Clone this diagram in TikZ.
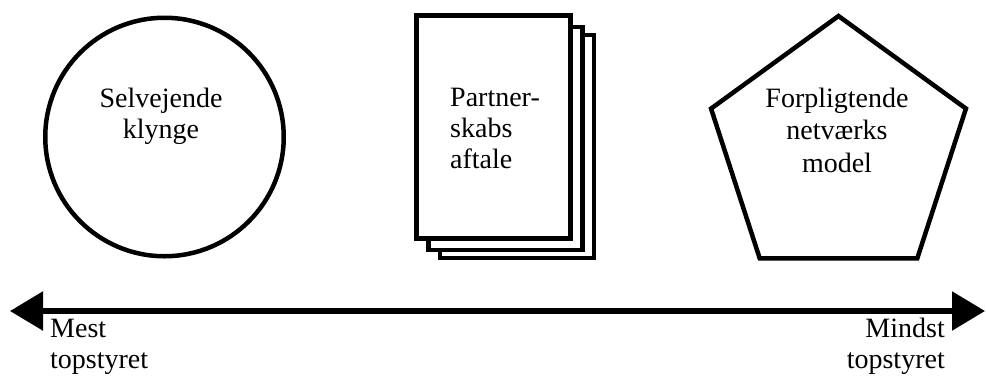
\documentclass[tikz,border=0pt]{standalone}
\usepackage{fontspec}
\setmainfont{Liberation Serif}
\usetikzlibrary{shapes.geometric,arrows.meta}
\begin{document}
\begin{tikzpicture}[x=1pt,y=-1pt,
  lbl/.style={font=\fontsize{28}{31}\selectfont, inner sep=0pt},
  sheet/.style={draw, fill=white, minimum width=154pt, minimum height=223pt, inner sep=0pt}]
\useasboundingbox (0,0) rectangle (986,376);
% circle
\node[draw, circle, line width=4.5pt, minimum size=238.5pt, inner sep=0pt] (circ) at (164.5,137) {};
\node[lbl, align=center, anchor=base] (circtxt) at (161,138) {Selvejende\\klynge};
% stacked sheets
\node[sheet, line width=4pt] (sheet3) at (516.5,146.5) {};
\node[sheet, line width=4.5pt] (sheet2) at (505.5,138.5) {};
\node[sheet, line width=5pt] (sheet1) at (493.5,127) {};
\node[lbl, align=left, anchor=base west] (sheettxt) at (450,168) {Partner-\\skabs\\aftale};
% pentagon
\node[draw, regular polygon, regular polygon sides=5, line width=4.5pt, minimum size=268pt, inner sep=0pt] (pent) at (838.5,150) {};
\node[lbl, font=\fontsize{28}{32.5}\selectfont, align=center, anchor=base] (penttxt) at (837,172) {Forpligtende\\netværks\\model};
% axis
\coordinate (lend) at (10,311);
\coordinate (rend) at (985,311);
\draw[line width=5.5pt, {Triangle[length=33pt,width=38pt]}-{Triangle[length=33pt,width=38pt]}] (lend) -- (rend);
\node[lbl, align=left, anchor=base west] (most) at (50,368) {Mest\\topstyret};
\node[lbl, align=right, anchor=base east] (least) at (945,368) {Mindst\\topstyret};
\end{tikzpicture}
\end{document}
